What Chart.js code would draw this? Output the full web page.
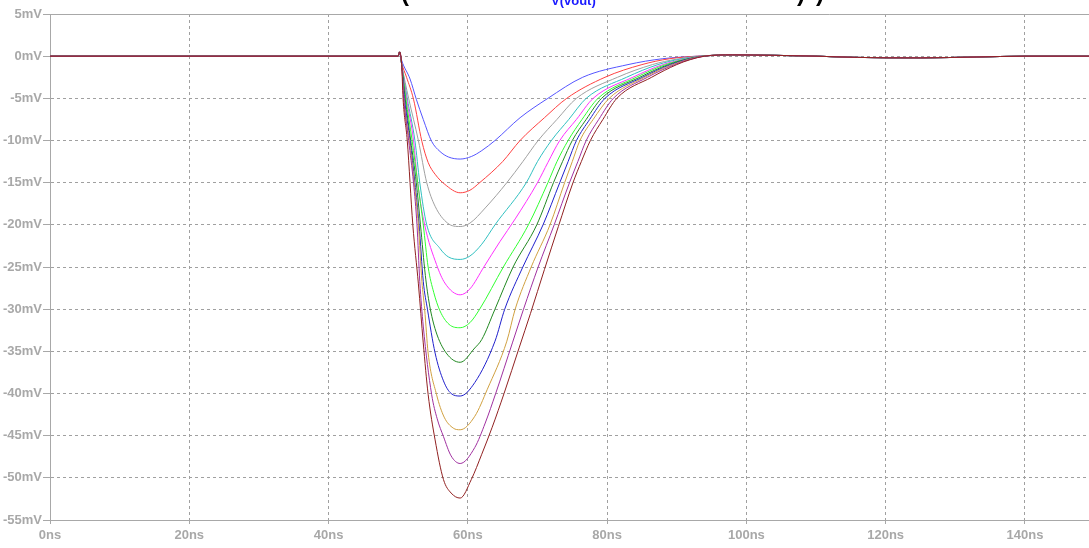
<!DOCTYPE html>
<html>
<head>
<meta charset="utf-8">
<script src="https://cdn.jsdelivr.net/npm/chart.js@4"></script>
<style>
  html, body { margin: 0; padding: 0; background: #fff; }
  #wrap { width: 1089px; height: 548px; }
</style>
</head>
<body>
<div id="wrap"><canvas id="voutChart"></canvas></div>
<script>
// time in ns, voltage in mV
const headTimes = [0, 50, 50.2];
const headVolts = [0, 0, 0.5];
const tailTimes = [98, 104, 110, 116, 125, 133, 140, 149.2];
const tailVolts = [0.15, 0.1, 0, -0.15, -0.2, -0.1, 0, 0];

const blueTimes = [50.5, 51.7, 52.6, 53.6, 54.8, 56.0, 57.2, 58.9, 60.5, 62.0, 63.9, 67.5, 71.5, 76.5, 83, 88, 93];
const blueVolts = [-0.5, -2.7, -5.1, -7.5, -10.1, -11.3, -11.95, -12.2, -11.9, -11.2, -10, -7.3, -5, -2.5, -1, -0.3, 0];

const redTimes = [50.5, 51.2, 52.2, 53.4, 54.3, 55.3, 56.7, 58.9, 60.3, 61.7, 65.0, 67.5, 71.0, 74.2, 79.7, 85, 89, 93];
const redVolts = [-0.8, -2.5, -5.1, -10.1, -12.6, -14, -15.2, -16.2, -15.9, -15, -12.5, -10, -7.3, -5, -2.5, -1, -0.3, 0];

const grayTimes = [50.5, 51.5, 52.9, 54.1, 55.3, 57.1, 58.9, 60.3, 62.5, 65.6, 67.9, 70.1, 72.8, 75.6, 81.5, 86.5, 90, 93.5];
const grayVolts = [-1, -5, -10, -15, -17.8, -19.8, -20.2, -19.8, -18, -15, -12.5, -10, -7.5, -5, -2.5, -1, -0.35, 0];

const cyanTimes = [50.5, 51.3, 52.4, 53.1, 54.1, 56.0, 57.2, 58.9, 60.3, 62.0, 63.9, 68.4, 70.0, 72.0, 74.5, 77.0, 82.8, 87.3, 90.5, 93.5];
const cyanVolts = [-1, -5, -10, -15, -20, -22.8, -23.8, -24.1, -23.7, -22.3, -20, -15, -12.5, -10, -7.5, -5, -2.5, -1, -0.35, 0];

const magentaTimes = [50.5, 51.2, 52.2, 52.8, 53.8, 55.5, 56.7, 58.9, 60.3, 62.3, 64.6, 66.8, 70.0, 71.5, 73.2, 75.6, 78.0, 83.7, 88.0, 90.8, 93.5];
const magentaVolts = [-1, -5, -10, -15, -20, -24.7, -26.9, -28.3, -27.6, -25, -22, -19.3, -15, -12.6, -10, -7.5, -5, -2.5, -1, -0.4, 0];

const greenTimes = [50.5, 51.1, 52.0, 52.8, 53.6, 54.3, 55.1, 56.0, 57.3, 58.9, 60.3, 61.7, 65.1, 68.7, 71.5, 72.8, 74.4, 76.4, 78.7, 84.2, 88.4, 91.0, 93.7];
const greenVolts = [-1, -5, -10, -15, -20, -25, -28, -30.2, -31.8, -32.2, -31.6, -30, -25, -20, -15, -12.5, -10, -7.5, -5, -2.5, -1, -0.4, 0];

const darkGreenTimes = [50.5, 51.0, 51.8, 52.6, 53.2, 53.9, 54.5, 55.4, 56.9, 58.9, 61.0, 62.0, 63.9, 66.5, 69.9, 72.3, 73.6, 75.0, 77.0, 79.2, 84.7, 88.8, 91.2, 93.8];
const darkGreenVolts = [-1, -5, -10, -15, -20, -26, -29.5, -32.6, -35.2, -36.3, -34.6, -33.6, -30, -25, -20, -15, -12.5, -10, -7.5, -5, -2.5, -1, -0.4, 0];

const darkBlueTimes = [50.5, 50.9, 51.7, 52.4, 53.0, 53.6, 54.2, 55.3, 56.5, 57.6, 58.9, 61.0, 63.9, 65.3, 67.9, 70.8, 73.2, 74.4, 75.6, 77.5, 79.7, 85.1, 89.1, 91.4, 93.8];
const darkBlueVolts = [-1, -5, -10, -15, -20, -26.7, -30, -35.2, -38.5, -40, -40.3, -38.7, -33.8, -30, -25, -20, -15, -12.5, -10, -7.5, -5, -2.5, -1, -0.4, 0];

const goldTimes = [50.5, 50.8, 51.6, 52.3, 52.9, 53.4, 53.8, 54.3, 55.5, 56.6, 57.9, 58.9, 61.0, 62.8, 65.6, 66.8, 69.1, 71.8, 73.9, 75.0, 76.1, 78.0, 80.3, 85.4, 89.4, 91.6, 93.8];
const goldVolts = [-1, -5, -10, -15, -20, -26.7, -30, -35.2, -40.1, -42.8, -44.1, -44.3, -42.7, -39.5, -33.8, -30, -25, -20, -15, -12.5, -10, -7.5, -5, -2.5, -1, -0.4, 0];

const purpleTimes = [50.5, 50.8, 51.5, 52.2, 52.7, 53.1, 53.6, 54.8, 55.6, 56.5, 57.6, 58.9, 61.0, 62.5, 64.0, 66.4, 68.0, 70.1, 72.4, 74.6, 75.8, 77.0, 78.8, 80.9, 85.8, 89.7, 91.8, 94.0];
const purpleVolts = [-1, -5, -10, -15, -20, -26.7, -32, -40.1, -43, -45.1, -47.4, -48.3, -46.4, -43.5, -40, -34, -30, -25, -20, -15, -12.5, -10, -7.5, -5, -2.5, -1, -0.4, 0];

const brownTimes = [50.5, 50.7, 51.3, 52.1, 52.9, 53.6, 54.3, 55.3, 56.5, 57.6, 58.9, 60.5, 62.0, 63.5, 65.2, 67.4, 69.0, 71.0, 73.0, 75.1, 76.3, 77.6, 79.4, 81.4, 86.4, 90.0, 92.0, 94.0];
const brownVolts = [-1, -5, -10, -20, -27, -34, -40.1, -45.5, -50.2, -51.8, -52.4, -50.2, -47.2, -44, -40, -34.5, -30.5, -25.3, -20.2, -15, -12.5, -10, -7.5, -5, -2.5, -1, -0.4, 0];

const yTicks = [5, 0, -5, -10, -15, -20, -25, -30, -35, -40, -45, -50, -55];
const xTicks = [0, 20, 40, 60, 80, 100, 120, 140];

const traces = [
    { times: blueTimes, volts: blueVolts, color: '#5555ff' },
    { times: redTimes, volts: redVolts, color: '#ff4040' },
    { times: grayTimes, volts: grayVolts, color: '#a0a0a0' },
    { times: cyanTimes, volts: cyanVolts, color: '#30c0c0' },
    { times: magentaTimes, volts: magentaVolts, color: '#ff30ff' },
    { times: greenTimes, volts: greenVolts, color: '#30ff30' },
    { times: darkGreenTimes, volts: darkGreenVolts, color: '#208820' },
    { times: darkBlueTimes, volts: darkBlueVolts, color: '#2020cc' },
    { times: goldTimes, volts: goldVolts, color: '#d0a040' },
    { times: purpleTimes, volts: purpleVolts, color: '#a030a0' },
    { times: brownTimes, volts: brownVolts, color: '#902020' }
];

function toPoints(times, volts) {
    const t = headTimes.concat(times, tailTimes);
    const v = headVolts.concat(volts, tailVolts);
    return t.map((x, i) => ({ x: x, y: v[i] }));
}

const datasets = traces.map((tr, i) => ({
    label: 'V(vout) step ' + (i + 1),
    data: toPoints(tr.times, tr.volts),
    borderColor: tr.color,
    borderWidth: 1,
    pointRadius: 0,
    fill: false,
    cubicInterpolationMode: 'monotone',
    order: traces.length - i
}));

const axisGray = '#a8a8a8';
const tickFont = { family: "'Liberation Sans', Arial, sans-serif", size: 13, weight: 'bold' };

// header text (cut off at the top in the original) and top frame line
const frameAndHeader = {
    id: 'frameAndHeader',
    afterDraw(chart) {
        const ctx = chart.ctx;
        const area = chart.chartArea;
        ctx.save();
        ctx.strokeStyle = axisGray;
        ctx.lineWidth = 1;
        ctx.beginPath();
        ctx.moveTo(area.left, area.top + 0.5);
        ctx.lineTo(area.right, area.top + 0.5);
        ctx.stroke();

        ctx.textBaseline = 'alphabetic';
        ctx.fillStyle = '#000';
        ctx.font = "bold 24px 'Liberation Sans', sans-serif";
        ctx.fillText('(', 401, 1);
        ctx.fillText(')', 797, 1);
        ctx.fillText(')', 816, 1);
        ctx.fillStyle = '#1a1aff';
        ctx.font = "bold 13px 'Liberation Sans', sans-serif";
        ctx.fillText('V(vout)', 551, 5);
        ctx.restore();
    }
};

new Chart(document.getElementById('voutChart'), {
    type: 'line',
    data: { datasets: datasets },
    options: {
        responsive: true,
        maintainAspectRatio: false,
        animation: false,
        layout: { padding: { top: 14, right: 0, left: 0, bottom: 0 } },
        plugins: {
            legend: { display: false },
            tooltip: { enabled: false }
        },
        scales: {
            x: {
                type: 'linear',
                min: 0,
                max: 149.2,
                afterBuildTicks: scale => { scale.ticks = xTicks.map(v => ({ value: v })); },
                afterFit: scale => { scale.height = 28; },
                ticks: {
                    color: axisGray,
                    font: tickFont,
                    padding: 4,
                    maxRotation: 0,
                    callback: v => v + 'ns'
                },
                grid: { color: '#a0a0a0', tickLength: 4, tickColor: axisGray },
                border: { display: true, color: axisGray, dash: [3, 3] }
            },
            y: {
                type: 'linear',
                min: -55,
                max: 5,
                afterBuildTicks: scale => { scale.ticks = yTicks.map(v => ({ value: v })); },
                afterFit: scale => { scale.width = 50; },
                ticks: {
                    color: axisGray,
                    font: tickFont,
                    padding: 1,
                    callback: v => v + 'mV'
                },
                grid: { color: '#a0a0a0', tickLength: 7, tickColor: axisGray },
                border: { display: true, color: axisGray, dash: [3, 3] }
            }
        }
    },
    plugins: [frameAndHeader]
});
</script>
</body>
</html>
